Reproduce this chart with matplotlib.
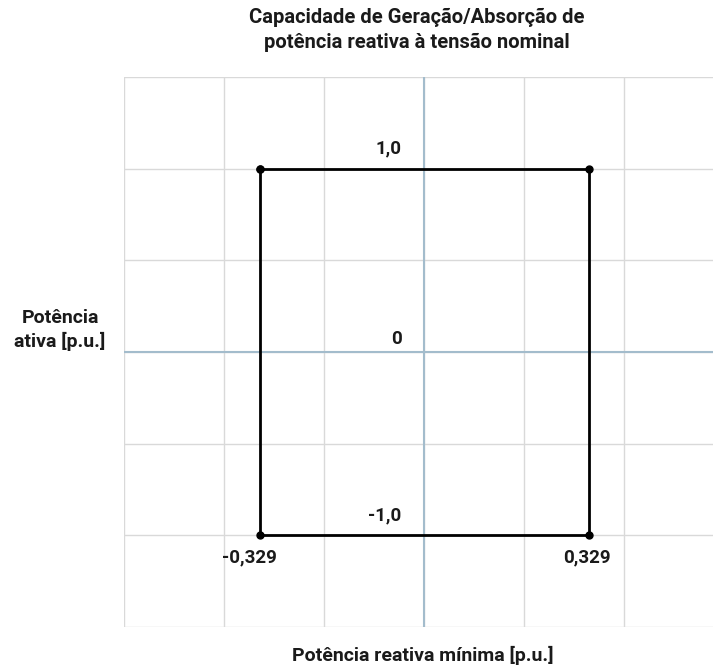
import numpy as np
import matplotlib.pyplot as plt

# dados do diagrama P-Q (retângulo de capacidade)
q_vals = [-0.329, 0.329, 0.329, -0.329, -0.329]
p_vals = [1.0, 1.0, -1.0, -1.0, 1.0]

# rótulos de dados
p_labels = ['1,0', '0', '-1,0']
p_label_vals = [1.0, 0.0, -1.0]
q_labels = ['-0,329', '0,329']
q_label_vals = [-0.329, 0.329]

title = 'Capacidade de Geração/Absorção de\npotência reativa à tensão nominal'
xlabel = 'Potência reativa mínima [p.u.]'
ylabel = 'Potência\nativa [p.u.]'

plt.rcParams['font.family'] = ['Roboto', 'DejaVu Sans']

fig = plt.figure(figsize=(7.13, 6.66), dpi=100)
ax = fig.add_axes([124 / 713, 39 / 666, 600 / 713, 550 / 666])

ax.set_xlim(-0.6, 0.6)
ax.set_ylim(-1.5, 1.5)
ax.set_xticks(np.arange(-0.6, 0.61, 0.2))
ax.set_yticks(np.arange(-1.5, 1.51, 0.5))
ax.grid(True, color='#d9d9d9', linewidth=1, zorder=0)
ax.set_axisbelow(True)
ax.tick_params(length=0, labelbottom=False, labelleft=False)
for s in ax.spines.values():
    s.set_visible(False)

ax.axhline(0, color='#a3bccc', linewidth=1.5, zorder=2)
ax.axvline(0, color='#a3bccc', linewidth=1.5, zorder=2)

ax.plot(q_vals, p_vals, color='black', linewidth=2, marker='o', markersize=5, zorder=3)

# rótulos
for lab, p in zip(p_labels, p_label_vals):
    dy = 0.07 if p == 0 else 0.11
    ax.text(-0.045, p + dy, lab, ha='right', va='center',
            fontsize=13.5, fontweight='bold', color='#1a1a1a')
for lab, q in zip(q_labels, q_label_vals):
    dx = -0.02 if q < 0 else -0.004
    ax.text(q + dx, -1.12, lab, ha='center', va='center',
            fontsize=13.5, fontweight='bold', color='#1a1a1a')

fig.text(417 / 713, 1 - 30 / 666, title, ha='center', va='center',
         fontsize=14.5, fontweight='bold', linespacing=1.35, color='#1a1a1a')
fig.text(423 / 713, 1 - 655 / 666, xlabel, ha='center', va='center',
         fontsize=14, fontweight='bold', color='#1a1a1a')
fig.text(60 / 713, 1 - 330 / 666, ylabel, ha='center', va='center',
         fontsize=14, fontweight='bold', linespacing=1.35, color='#1a1a1a')

fig.savefig('out.png', dpi=100)
